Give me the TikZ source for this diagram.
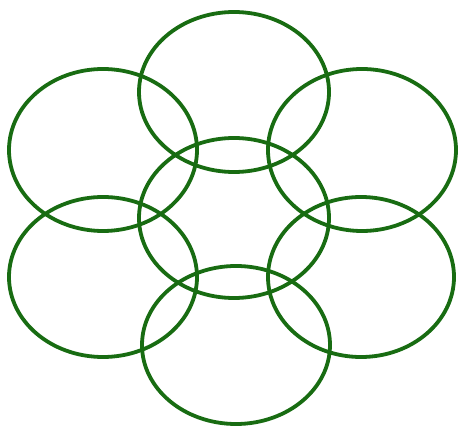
\documentclass[tikz,border=0pt]{standalone}
\definecolor{ringgreen}{RGB}{24,108,18}
\begin{document}
\begin{tikzpicture}[x=1pt,y=-1pt,ring/.style={draw=ringgreen,line width=3.8pt}]
\useasboundingbox (0,0) rectangle (458,427);
\draw[ring] (234,92) ellipse [x radius=95,y radius=80];
\draw[ring] (103,150) ellipse [x radius=94,y radius=81];
\draw[ring] (362,150) ellipse [x radius=94,y radius=81];
\draw[ring] (234,218) ellipse [x radius=95,y radius=80];
\draw[ring] (103,277) ellipse [x radius=94,y radius=80];
\draw[ring] (361,277) ellipse [x radius=93,y radius=80];
\draw[ring] (236,345) ellipse [x radius=94,y radius=79];
\end{tikzpicture}
\end{document}
